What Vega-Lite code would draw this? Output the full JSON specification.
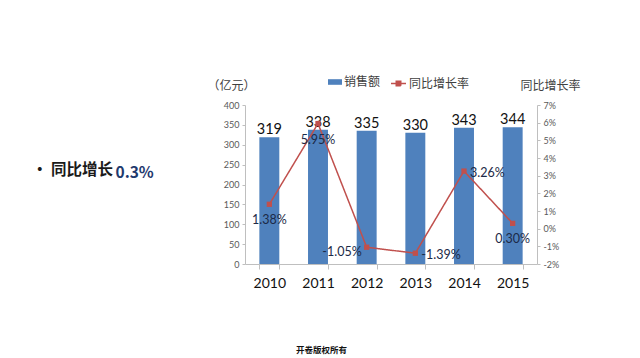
{
  "$schema": "https://vega.github.io/schema/vega-lite/v6.json",
  "width": 292,
  "height": 159,
  "autosize": {"type": "none"},
  "padding": {"left": 245, "top": 105, "right": 103, "bottom": 94},
  "background": "#ffffff",
  "config": {
    "view": {"stroke": null},
    "font": "Noto Sans CJK SC",
    "axis": {"grid": false}
  },
  "title": {
    "text": "•    同比增长",
    "anchor": "start",
    "frame": "group",
    "dx": -213,
    "dy": 107,
    "fontSize": 15.5,
    "fontWeight": "bold",
    "color": "#1a1a1a",
    "font": "Noto Sans CJK SC"
  },
  "data": {
    "values": [
      {"year": "2010", "sales": 319, "growth": 1.38},
      {"year": "2011", "sales": 338, "growth": 5.95},
      {"year": "2012", "sales": 335, "growth": -1.05},
      {"year": "2013", "sales": 330, "growth": -1.39},
      {"year": "2014", "sales": 343, "growth": 3.26},
      {"year": "2015", "sales": 344, "growth": 0.30}
    ]
  },
  "transform": [
    {"calculate": "replace(format(datum.growth, '.2f'), '\u2212', '-') + '%'", "as": "glabel"}
  ],
  "layer": [
    {
      "encoding": {
        "x": {
          "field": "year",
          "type": "ordinal",
          "scale": {"paddingInner": 0.59, "paddingOuter": 0.295},
          "axis": {
            "title": "开卷版权所有",
            "titleX": 76,
            "titleY": 85,
            "titleBaseline": "middle",
            "titleAlign": "center",
            "titleFontSize": 8.5,
            "titleFontWeight": "bold",
            "titleColor": "#111111",
            "labelAngle": 0,
            "labelFont": "Lato",
            "labelFontSize": 14,
            "labelColor": "#111111",
            "labelPadding": 7,
            "tickBand": "extent",
            "tickSize": 5,
            "tickColor": "#BFBFBF",
            "domainColor": "#BFBFBF"
          }
        },
        "y": {
          "field": "sales",
          "type": "quantitative",
          "scale": {"domain": [0, 400]},
          "axis": {
            "values": [0, 50, 100, 150, 200, 250, 300, 350, 400],
            "title": "（亿元）",
            "titleAngle": 0,
            "titleX": -14,
            "titleY": -20,
            "titleAlign": "center",
            "titleBaseline": "middle",
            "titleFontSize": 12,
            "titleFontWeight": "normal",
            "titleColor": "#404040",
            "labelFont": "Lato",
            "labelFontSize": 9,
            "labelColor": "#595959",
            "labelPadding": 3,
            "tickSize": 3,
            "tickColor": "#BFBFBF",
            "domainColor": "#BFBFBF"
          }
        }
      },
      "layer": [
        {
          "mark": {"type": "bar"},
          "encoding": {
            "color": {
              "datum": "销售额",
              "type": "nominal",
              "scale": {"range": ["#4F81BD"]},
              "legend": {
                "orient": "none",
                "legendX": 83,
                "legendY": -30,
                "title": null,
                "padding": 0,
                "labelFontSize": 12,
                "labelColor": "#404040",
                "labelOffset": 2,
                "symbolType": "M-1,-0.4H1V0.4H-1Z",
                "symbolSize": 196,
                "symbolStrokeWidth": 0
              }
            }
          }
        },
        {
          "mark": {"type": "text", "baseline": "bottom", "dy": 0, "fontSize": 14.5, "font": "Lato", "color": "#111111"},
          "encoding": {"text": {"field": "sales", "type": "quantitative"}}
        }
      ]
    },
    {
      "encoding": {
        "x": {
          "field": "year",
          "type": "ordinal",
          "axis": {
            "orient": "top",
            "title": "0.3%",
            "titleX": -130,
            "titleY": 72,
            "titleAlign": "left",
            "titleBaseline": "alphabetic",
            "titleFontSize": 15.5,
            "titleFontWeight": "bold",
            "titleColor": "#1F3A6E",
            "labels": false,
            "ticks": false,
            "domain": false
          }
        },
        "y": {
          "field": "growth",
          "type": "quantitative",
          "scale": {"domain": [-2, 7]},
          "axis": {
            "orient": "right",
            "values": [-2, -1, 0, 1, 2, 3, 4, 5, 6, 7],
            "labelExpr": "datum.value + '%'",
            "title": "同比增长率",
            "titleAngle": 0,
            "titleX": 13,
            "titleY": -20,
            "titleAlign": "center",
            "titleBaseline": "middle",
            "titleFontSize": 12,
            "titleFontWeight": "normal",
            "titleColor": "#404040",
            "labelFont": "Lato",
            "labelFontSize": 9,
            "labelColor": "#595959",
            "labelPadding": 3,
            "tickSize": 3,
            "tickColor": "#BFBFBF",
            "domainColor": "#BFBFBF"
          }
        }
      },
      "layer": [
        {
          "mark": {"type": "line", "color": "#C0504D", "strokeWidth": 1.5},
          "encoding": {
            "strokeDash": {
              "datum": "同比增长率",
              "type": "nominal",
              "scale": {"range": [[1, 0]]},
              "legend": {
                "orient": "none",
                "legendX": 145,
                "legendY": -30,
                "title": null,
                "padding": 0,
                "labelFontSize": 12,
                "labelColor": "#404040",
                "labelOffset": 2,
                "symbolType": "M-1,0H1M-0.3,-0.3H0.3V0.3H-0.3Z",
                "symbolSize": 225,
                "symbolStrokeColor": "#C0504D",
                "symbolFillColor": "#C0504D",
                "symbolStrokeWidth": 1.5
              }
            }
          }
        },
        {
          "mark": {"type": "point", "shape": "square", "filled": true, "color": "#C0504D", "size": 28, "opacity": 1}
        },
        {
          "transform": [{"filter": "indexof(['2010','2011','2015'], datum.year) >= 0"}],
          "mark": {"type": "text", "baseline": "middle", "align": "center", "dy": 16, "fontSize": 12.5, "font": "Lato", "color": "#1c2a48"},
          "encoding": {"text": {"field": "glabel"}}
        },
        {
          "transform": [{"filter": "datum.year == '2012'"}],
          "mark": {"type": "text", "baseline": "middle", "align": "right", "dx": -5, "dy": 5, "fontSize": 12.5, "font": "Lato", "color": "#1c2a48"},
          "encoding": {"text": {"field": "glabel"}}
        },
        {
          "transform": [{"filter": "indexof(['2013','2014'], datum.year) >= 0"}],
          "mark": {"type": "text", "baseline": "middle", "align": "left", "dx": 6, "dy": 2, "fontSize": 12.5, "font": "Lato", "color": "#1c2a48"},
          "encoding": {"text": {"field": "glabel"}}
        }
      ]
    }
  ],
  "resolve": {"scale": {"y": "independent", "color": "independent", "strokeDash": "independent"}, "axis": {"x": "independent"}}
}
